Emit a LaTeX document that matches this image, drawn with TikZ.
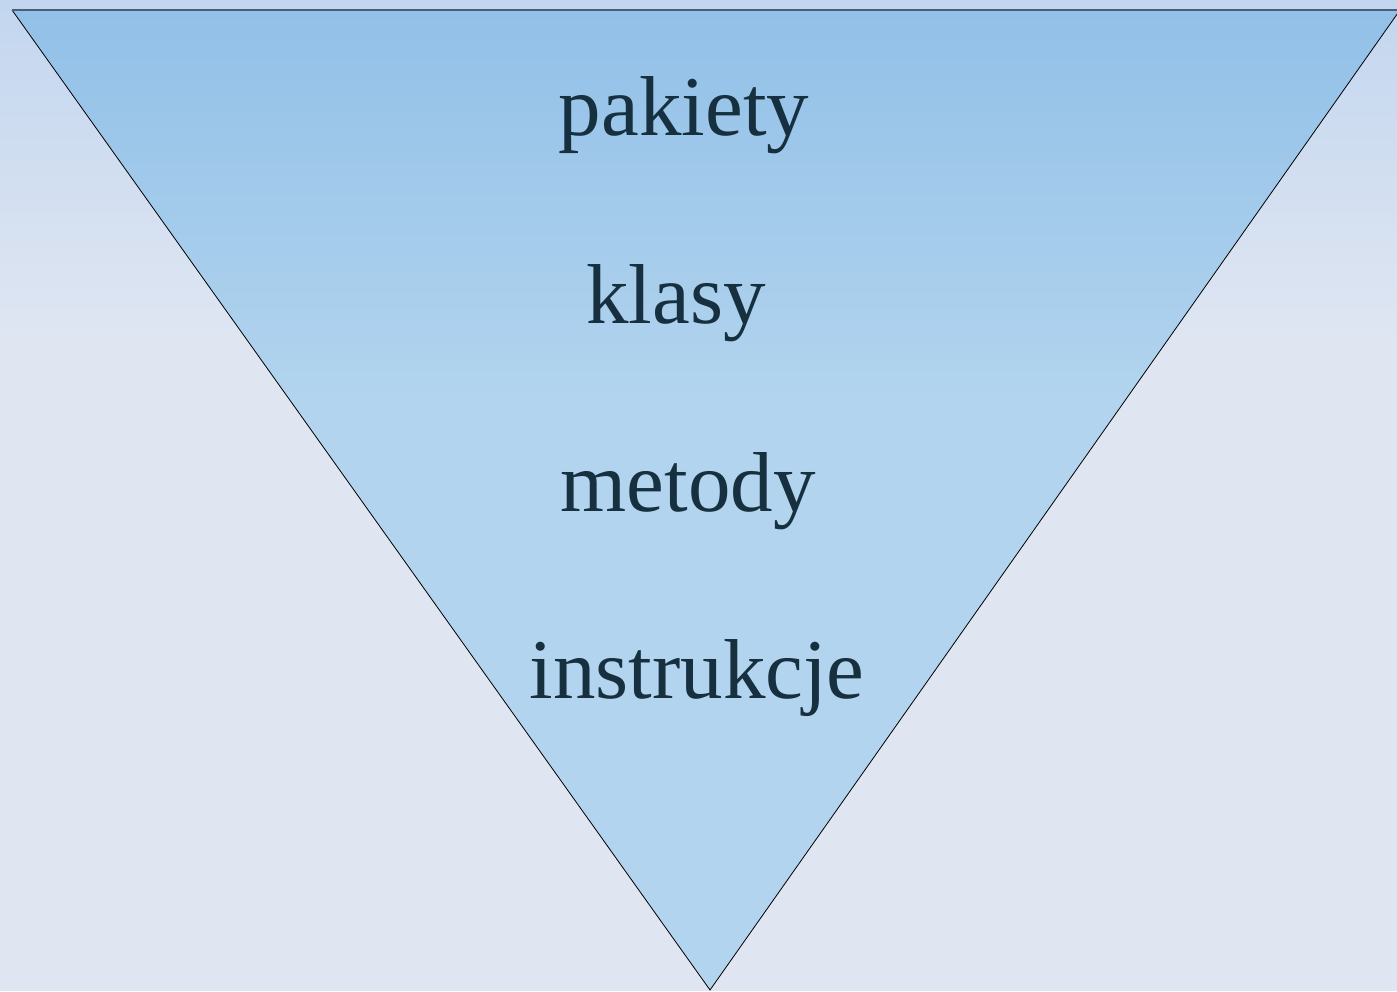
\documentclass[tikz,border=0pt]{standalone}
\usepackage{fontspec}
\setmainfont{Liberation Serif}
\definecolor{bgtop}{HTML}{C3D6EF}
\definecolor{bgbot}{HTML}{DFE6F2}
\definecolor{tritop}{HTML}{92C0E8}
\definecolor{tribot}{HTML}{B2D4EE}
\definecolor{txt}{HTML}{17303F}
\definecolor{edge}{HTML}{4A5F75}
\begin{document}
\begin{tikzpicture}[x=1pt,y=1pt,
  lbl/.style={anchor=base,text=txt,font=\fontsize{85}{100}\selectfont,inner sep=0pt}]
\useasboundingbox (0,0) rectangle (1397,991);
% background
\fill[bgbot] (0,0) rectangle (1397,991);
\shade[top color=bgtop,bottom color=bgbot] (0,651) rectangle (1397,991);
% triangle
\begin{scope}
\clip (12,981) -- (1400,981) -- (710,1) -- cycle;
\fill[tribot] (0,0) rectangle (1400,991);
\shade[top color=tritop,bottom color=tribot] (0,591) rectangle (1400,981);
\end{scope}
\coordinate (tl) at (12,981);
\coordinate (tr) at (1400,981);
\coordinate (ap) at (710,1);
\draw[black,line width=0.8pt] (tl) -- (ap) -- (tr);
\draw[edge,line width=1.2pt] (tl) -- (tr);
% labels
\node[lbl] (p) at (684,855) {pakiety};
\node[lbl] (k) at (676,667) {klasy};
\node[lbl] (m) at (688,479) {metody};
\node[lbl] (i) at (697,292) {instrukcje};
\end{tikzpicture}
\end{document}
